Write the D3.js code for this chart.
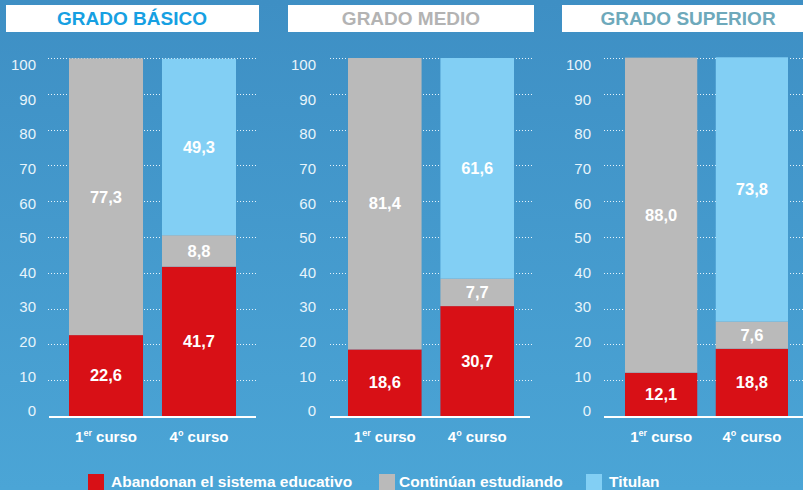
<!DOCTYPE html>
<html>
<head>
<meta charset="utf-8">
<script src="https://cdn.jsdelivr.net/npm/d3@7"></script>
<style>
  body { margin: 0; }
  svg { display: block; font-family: "Liberation Sans", Arial, sans-serif; }
</style>
</head>
<body>
<div id="chart"></div>
<script>
// data
var grados = ["GRADO BÁSICO", "GRADO MEDIO", "GRADO SUPERIOR"];
var cursos = ["1er", "4o"];
var abandonan = [[22.6, 41.7], [18.6, 30.7], [12.1, 18.8]];
var continuan = [[77.3, 8.8], [81.4, 7.7], [88.0, 7.6]];
var titulan   = [[0, 49.3],   [0, 61.6],   [0, 73.8]];
var ticks = [0, 10, 20, 30, 40, 50, 60, 70, 80, 90, 100];
var seriesNames = ["Abandonan el sistema educativo", "Continúan estudiando", "Titulan"];

var colors = ["#d81016", "#bababa", "#82cff4"];
var titleColors = ["#16a0e2", "#b3b3b3", "#6ea9bb"];

var width = 803, height = 490;

// layout per panel
var panels = [
  { box: [6, 253],   title: 132, axisX: 36,  grid: [48, 257],  base: [49, 256],  bars: [69, 236] },
  { box: [288, 246], title: 411, axisX: 316, grid: [330, 532], base: [330, 530], bars: [348, 514] },
  { box: [562, 250], title: 688, axisX: 591, grid: [604, 810], base: [604, 810], bars: [625, 788] }
];

var svg = d3.select("#chart").append("svg")
    .attr("width", width)
    .attr("height", height);

var grad = svg.append("defs").append("linearGradient")
    .attr("id", "bg").attr("x1", 0).attr("y1", 0).attr("x2", 0).attr("y2", 1);
grad.append("stop").attr("offset", "0%").attr("stop-color", "#3e8fc4");
grad.append("stop").attr("offset", "100%").attr("stop-color", "#4ba5d6");

svg.append("rect").attr("width", width).attr("height", height).attr("fill", "url(#bg)");

var y = d3.scaleLinear().domain([0, 100]).range([416, 58]);
// tick labels sit on a slightly tighter scale than the grid in the original
var yLabel = d3.scaleLinear().domain([0, 100]).range([411, 65]);

var stack = [abandonan, continuan, titulan];

panels.forEach(function(p, i) {
  var g = svg.append("g");

  g.append("rect")
      .attr("x", p.box[0]).attr("y", 5)
      .attr("width", p.box[1]).attr("height", 27)
      .attr("fill", "#fff");
  g.append("text")
      .attr("x", p.title).attr("y", 25)
      .attr("text-anchor", "middle")
      .attr("font-size", 19).attr("font-weight", "bold")
      .attr("fill", titleColors[i])
      .text(grados[i]);

  // gridlines
  g.selectAll("line.grid")
      .data(ticks.slice(1))
    .enter().append("line")
      .attr("class", "grid")
      .attr("x1", p.grid[0]).attr("x2", p.grid[1])
      .attr("y1", function(d) { return Math.round(y(d)) + 0.5; })
      .attr("y2", function(d) { return Math.round(y(d)) + 0.5; })
      .attr("stroke", "#e6f3fb")
      .attr("stroke-width", 1)
      .attr("stroke-dasharray", "1,2");

  g.selectAll("text.tick")
      .data(ticks)
    .enter().append("text")
      .attr("class", "tick")
      .attr("x", p.axisX)
      .attr("y", function(d) { return yLabel(d); })
      .attr("dy", "0.35em")
      .attr("text-anchor", "end")
      .attr("font-size", 15)
      .attr("fill", "#e8f4fb")
      .text(function(d) { return d; });

  var x = d3.scaleBand().domain(cursos).range(p.bars).paddingInner(0.204).paddingOuter(0);

  cursos.forEach(function(c, j) {
    var acc = 0;
    stack.forEach(function(s, k) {
      var v = s[i][j];
      if (!v) return;
      var y0 = acc, y1 = acc + v;
      acc = y1;
      g.append("rect")
          .attr("x", x(c)).attr("width", x.bandwidth())
          .attr("y", y(y1)).attr("height", y(y0) - y(y1))
          .attr("fill", colors[k]);
      g.append("text")
          .attr("x", x(c) + x.bandwidth() / 2)
          .attr("y", (y(y0) + y(y1)) / 2)
          .attr("dy", "0.35em")
          .attr("text-anchor", "middle")
          .attr("font-size", 16.5).attr("font-weight", "bold")
          .attr("fill", "#fff")
          .text(d3.format(".1f")(v).replace(".", ","));
    });

    var lab = g.append("text")
        .attr("x", x(c) + x.bandwidth() / 2)
        .attr("y", 442)
        .attr("text-anchor", "middle")
        .attr("font-size", 15).attr("font-weight", "bold")
        .attr("fill", "#fff");
    lab.append("tspan").text(c.charAt(0));
    lab.append("tspan").attr("font-size", 9).attr("dy", -6).text(c.slice(1));
    lab.append("tspan").attr("dy", 6).text(" curso");
  });

  g.append("line")
      .attr("x1", p.base[0]).attr("x2", p.base[1])
      .attr("y1", 417).attr("y2", 417)
      .attr("stroke", "#fff").attr("stroke-width", 2);
});

// legend
var legendX = [88, 379, 586];
var legend = svg.selectAll("g.legend")
    .data(seriesNames)
  .enter().append("g")
    .attr("class", "legend")
    .attr("transform", function(d, i) { return "translate(" + legendX[i] + ",474)"; });
legend.append("rect")
    .attr("width", 16).attr("height", 16)
    .attr("fill", function(d, i) { return colors[i]; });
legend.append("text")
    .attr("x", function(d, i) { return i == 1 ? 20 : 23; }).attr("y", 13)
    .attr("font-size", 15.5).attr("font-weight", "bold")
    .attr("fill", "#fff")
    .text(function(d) { return d; });
</script>
</body>
</html>
